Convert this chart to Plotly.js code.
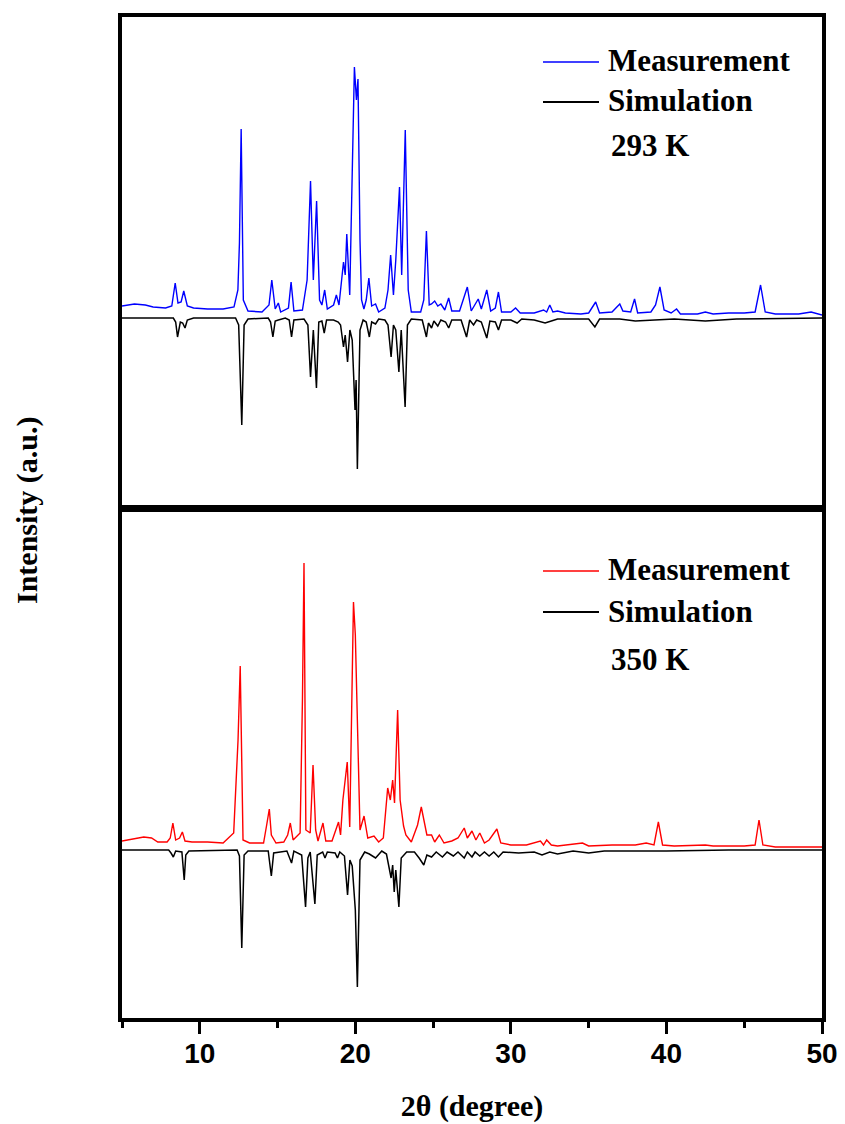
<!DOCTYPE html>
<html>
<head>
<meta charset="utf-8">
<script src="https://cdn.plot.ly/plotly-3.0.1.min.js"></script>
<style>html,body{margin:0;padding:0;background:#fff;}#chart{width:845px;height:1124px;}</style>
</head>
<body>
<div id="chart"></div>
<script>
// ---------- DATA (2θ in degrees, intensity in arbitrary units) ----------
// 293 K panel : measurement (offset above baseline), simulation (inverted)
var meas293_x = [5.0,5.8,6.5,7.0,7.8,8.2,8.42,8.6,8.8,8.97,9.2,9.6,10.5,11.5,12.2,12.45,12.55,12.66,12.8,13.1,14.0,14.45,14.63,14.85,15.05,15.2,15.7,15.87,16.05,16.6,16.9,17.0,17.12,17.3,17.51,17.7,17.85,18.03,18.2,18.6,18.78,18.95,19.1,19.24,19.35,19.45,19.64,19.82,19.94,20.07,20.17,20.3,20.4,20.55,20.7,20.87,21.05,21.3,21.5,21.9,22.1,22.27,22.45,22.6,22.84,22.98,23.21,23.4,23.6,24.2,24.4,24.57,24.75,24.9,25.1,25.3,25.5,25.75,26.0,26.2,26.7,27.2,27.45,27.9,28.1,28.45,28.7,29.0,29.2,29.4,30.0,30.3,30.6,31.5,31.9,32.1,32.3,32.5,32.7,33.0,33.5,34.5,35.0,35.45,35.7,36.5,37.0,37.2,37.7,37.95,38.15,39.0,39.3,39.58,39.85,40.3,40.65,40.9,42.0,42.5,43.0,44.0,45.0,45.7,46.05,46.35,47.0,48.5,49.3,50.0];
var meas293_y = [12,14,13,11,10,12,35,15,16,27,12,10,9,9,11,28,75,189,18,7,6,13,38,9,15,6,10,36,7,8,38,78,137,38,117,18,13,28,9,13,23,13,38,56,43,84,23,168,251,218,239,78,18,9,18,40,12,14,6,10,28,63,23,58,131,43,188,28,6,6,18,87,13,14,17,12,14,8,20,7,7,31,7,19,9,28,7,10,26,6,6,10,5,5,7,8,6,13,6,7,5,4,5,16,5,6,14,7,6,19,5,6,13,31,8,5,9,4,4,6,4,5,5,6,33,6,4,4,6,3];

var sim293_x = [5.0,8.3,8.45,8.57,8.75,8.9,9.05,9.2,9.6,12.3,12.5,12.7,12.85,13.1,14.4,14.55,14.7,14.85,15.05,15.5,15.75,15.9,16.05,16.7,16.95,17.12,17.3,17.5,17.65,17.85,18.0,18.15,18.6,18.9,19.05,19.24,19.35,19.5,19.65,19.8,19.98,20.05,20.13,20.3,20.5,20.7,20.9,21.05,21.3,21.5,21.9,22.1,22.3,22.45,22.6,22.8,22.95,23.2,23.35,23.6,24.3,24.57,24.7,24.9,25.05,25.3,25.5,25.8,26.0,26.2,26.8,27.15,27.35,27.6,27.8,28.1,28.45,28.65,29.0,29.2,29.4,30.0,30.4,30.7,31.5,32.2,32.6,33.0,35.0,35.4,35.7,37.0,38.0,39.5,40.5,42.5,44.5,50.0];
var sim293_y = [0,0,-4,-19,-4,-5,-10,-2,0,0,-7,-107,-7,-1,0,-4,-19,-3,-2,0,-2,-19,-2,-1,-7,-59,-12,-70,-4,-3,-15,-2,-2,-4,-7,-29,-17,-44,-12,-22,-92,-62,-151,-12,-2,-4,-19,-4,-6,-1,-2,-7,-39,-7,-12,-54,-12,-89,-7,-1,-2,-19,-5,-10,-3,-8,-2,-4,-10,-2,-2,-19,-2,-7,-2,-4,-20,-3,-4,-12,-2,-2,-5,-1,-2,-5,-3,-1,-1,-9,-1,-1,-3,-2,-1,-3,-1,0];

// 350 K panel
var meas350_x = [5.0,5.8,6.4,6.9,7.3,7.9,8.1,8.27,8.45,8.7,8.88,9.05,9.5,10.5,11.5,12.18,12.46,12.6,12.78,13.2,14.1,14.3,14.47,14.6,14.9,15.4,15.65,15.82,16.0,16.45,16.6,16.7,16.82,17.1,17.28,17.45,17.6,17.92,18.1,18.5,18.75,18.92,19.05,19.2,19.48,19.64,19.88,20.0,20.3,20.56,20.8,21.2,21.5,21.8,22.08,22.25,22.4,22.52,22.72,22.88,23.1,23.25,23.6,24.0,24.24,24.35,24.6,24.9,25.1,25.4,25.7,26.2,26.6,27.0,27.2,27.5,27.75,28.0,28.3,28.6,29.1,29.35,30.0,31.0,31.9,32.1,32.3,32.6,33.0,34.6,35.0,36.5,37.1,38.0,38.7,39.2,39.48,39.75,40.5,42.5,43.0,45.0,45.7,45.95,46.2,47.0,50.0];
var meas350_y = [9,11,13,12,8,8,12,27,10,12,18,9,8,8,7,17,110,184,10,7,7,25,41,15,7,8,15,27,10,17,150,287,20,17,85,20,9,27,9,9,20,28,15,50,88,23,248,215,20,34,12,14,8,12,62,50,70,47,140,50,24,15,8,25,43,35,15,15,8,15,7,9,12,22,12,19,10,17,7,10,21,7,5,5,9,5,10,5,4,7,4,5,5,5,7,5,28,5,4,5,4,4,5,30,5,3,3];

var sim350_x = [5.0,8.0,8.15,8.3,8.45,8.85,9.0,9.1,9.3,12.4,12.55,12.7,12.85,13.1,14.4,14.6,14.75,15.6,15.9,16.05,16.55,16.8,16.95,17.1,17.4,17.55,17.9,18.05,18.2,18.7,18.85,19.0,19.3,19.5,19.65,19.8,20.0,20.13,20.3,20.6,20.9,21.3,21.7,22.0,22.3,22.4,22.5,22.6,22.8,22.95,23.3,23.8,24.1,24.4,24.6,24.9,25.2,25.6,25.9,26.3,26.6,27.0,27.2,27.5,27.7,28.0,28.3,28.6,28.9,29.2,29.5,30.5,31.5,32.0,32.5,33.0,34.0,35.0,36.0,40.0,44.0,50.0];
var sim350_y = [0,0,-3,-7,-1,-2,-30,-5,-1,0,-6,-98,-5,-1,-1,-26,-3,-1,-13,-1,-5,-57,-8,-2,-54,-5,-2,-8,-2,-3,-8,-2,-6,-45,-10,-16,-60,-137,-10,-2,-4,-8,-1,-4,-28,-15,-42,-20,-57,-8,-2,-2,-8,-15,-5,-7,-2,-7,-2,-6,-2,-8,-2,-7,-2,-6,-2,-6,-2,-7,-2,-3,-2,-5,-2,-4,-1,-3,-1,-1,0,0];

var seriesNames = ['Measurement', 'Simulation'];
var tempLabels = ['293 K', '350 K'];
var xTickVals = [10, 20, 30, 40, 50];
var xTitle = '2θ (degree)';
var yTitle = 'Intensity (a.u.)';

// ---------- CHART ----------
var W = 845, H = 1124;
function fx(px){ return px / W; }
function fy(px){ return 1 - px / H; }

var BLUE = '#0000ff', RED = '#ff0000', BLACK = '#000000';
var serif = 'Liberation Serif, Times New Roman, serif';
var sans = 'Liberation Sans, Arial, sans-serif';

var traces = [
  {x: meas293_x, y: meas293_y, xaxis: 'x2', yaxis: 'y2', type: 'scatter', mode: 'lines', name: seriesNames[0],
   line: {color: BLUE, width: 1.4}, showlegend: false, hoverinfo: 'x+y'},
  {x: sim293_x, y: sim293_y, xaxis: 'x2', yaxis: 'y2', type: 'scatter', mode: 'lines', name: seriesNames[1],
   line: {color: BLACK, width: 1.5}, showlegend: false, hoverinfo: 'x+y'},
  {x: meas350_x, y: meas350_y, xaxis: 'x', yaxis: 'y', type: 'scatter', mode: 'lines', name: seriesNames[0],
   line: {color: RED, width: 1.4}, showlegend: false, hoverinfo: 'x+y'},
  {x: sim350_x, y: sim350_y, xaxis: 'x', yaxis: 'y', type: 'scatter', mode: 'lines', name: seriesNames[1],
   line: {color: BLACK, width: 1.5}, showlegend: false, hoverinfo: 'x+y'}
];

var xDom = [fx(122), fx(822)];
var frame = {showline: true, linecolor: BLACK, linewidth: 4, mirror: true, showgrid: false, zeroline: false};

var layout = {
  width: W, height: H,
  margin: {l: 0, r: 0, t: 0, b: 0, pad: 0},
  paper_bgcolor: '#ffffff', plot_bgcolor: '#ffffff',
  showlegend: false,
  xaxis: Object.assign({}, frame, {
    domain: xDom, range: [5, 50], anchor: 'y',
    tickmode: 'array', tickvals: xTickVals,
    ticks: 'outside', ticklen: 12, tickwidth: 3, tickcolor: BLACK,
    minor: {tickmode: 'linear', tick0: 5, dtick: 10, ticks: 'outside', ticklen: 6, tickwidth: 3, tickcolor: BLACK, showgrid: false},
    tickfont: {family: sans, size: 28, color: BLACK, weight: 'bold'},
    ticklabelstandoff: -5,
    title: {text: xTitle, font: {family: serif, size: 30, color: BLACK, weight: 'bold'}, standoff: 28}
  }),
  yaxis: Object.assign({}, frame, {
    domain: [fy(1018), fy(508.5)], range: [-168, 341.5], anchor: 'x',
    showticklabels: false, ticks: ''
  }),
  xaxis2: Object.assign({}, frame, {
    domain: xDom, range: [5, 50], anchor: 'y2', matches: 'x',
    showticklabels: false, ticks: ''
  }),
  yaxis2: Object.assign({}, frame, {
    domain: [fy(507.5), fy(17)], range: [-189.5, 301], anchor: 'x2',
    showticklabels: false, ticks: ''
  }),
  shapes: [
    {type: 'line', xref: 'paper', yref: 'paper', x0: fx(543), x1: fx(599), y0: fy(62), y1: fy(62), line: {color: BLUE, width: 1.5}},
    {type: 'line', xref: 'paper', yref: 'paper', x0: fx(543), x1: fx(599), y0: fy(102), y1: fy(102), line: {color: BLACK, width: 1.8}},
    {type: 'line', xref: 'paper', yref: 'paper', x0: fx(543), x1: fx(599), y0: fy(571), y1: fy(571), line: {color: RED, width: 1.5}},
    {type: 'line', xref: 'paper', yref: 'paper', x0: fx(543), x1: fx(599), y0: fy(612), y1: fy(612), line: {color: BLACK, width: 1.8}}
  ],
  annotations: [
    {text: seriesNames[0], xref: 'paper', yref: 'paper', x: fx(606), y: fy(60), xanchor: 'left', yanchor: 'middle', showarrow: false,
     font: {family: serif, size: 31, color: BLACK, weight: 'bold'}},
    {text: seriesNames[1], xref: 'paper', yref: 'paper', x: fx(606), y: fy(101), xanchor: 'left', yanchor: 'middle', showarrow: false,
     font: {family: serif, size: 31, color: BLACK, weight: 'bold'}},
    {text: tempLabels[0], xref: 'paper', yref: 'paper', x: fx(609), y: fy(146), xanchor: 'left', yanchor: 'middle', showarrow: false,
     font: {family: serif, size: 31, color: BLACK, weight: 'bold'}},
    {text: seriesNames[0], xref: 'paper', yref: 'paper', x: fx(606), y: fy(569), xanchor: 'left', yanchor: 'middle', showarrow: false,
     font: {family: serif, size: 31, color: BLACK, weight: 'bold'}},
    {text: seriesNames[1], xref: 'paper', yref: 'paper', x: fx(606), y: fy(611), xanchor: 'left', yanchor: 'middle', showarrow: false,
     font: {family: serif, size: 31, color: BLACK, weight: 'bold'}},
    {text: tempLabels[1], xref: 'paper', yref: 'paper', x: fx(609), y: fy(659), xanchor: 'left', yanchor: 'middle', showarrow: false,
     font: {family: serif, size: 31, color: BLACK, weight: 'bold'}},
    {text: yTitle, xref: 'paper', yref: 'paper', x: fx(27), y: fy(510), xanchor: 'center', yanchor: 'middle', showarrow: false,
     textangle: -90, font: {family: serif, size: 30, color: BLACK, weight: 'bold'}}
  ]
};

Plotly.newPlot('chart', traces, layout, {staticPlot: true, displayModeBar: false});
</script>
</body>
</html>
